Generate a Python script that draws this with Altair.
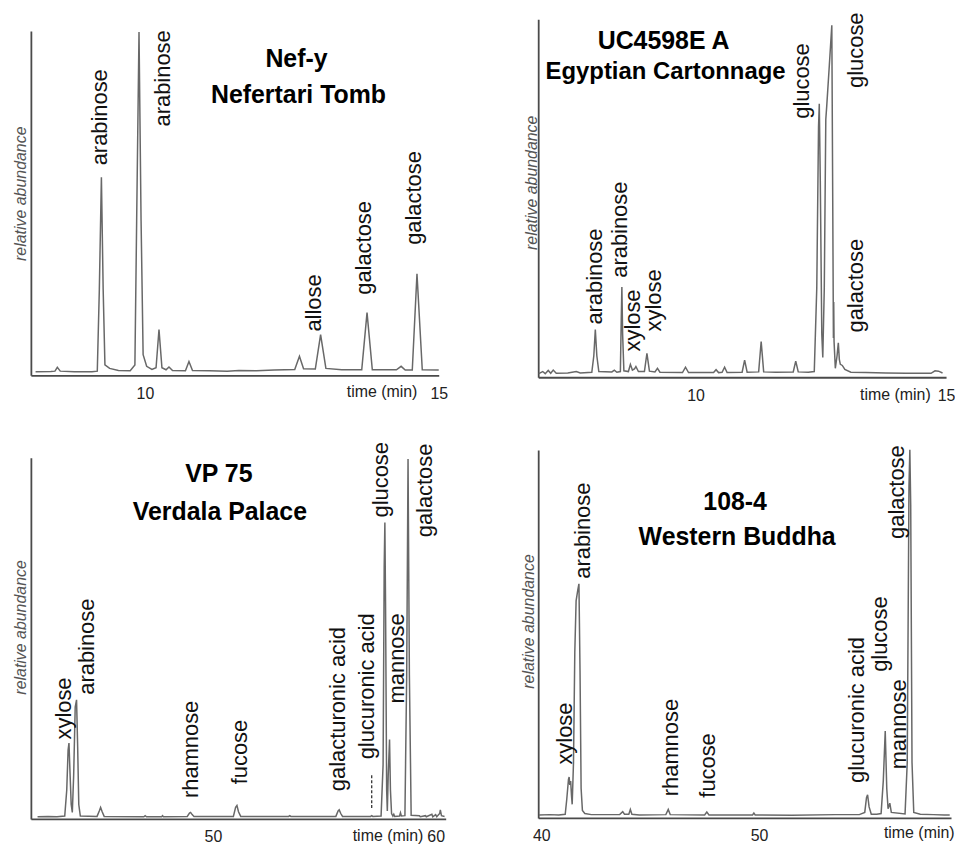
import altair as alt
import pandas as pd

# ---------------- data ----------------
# Panel 1: Nef-y / Nefertari Tomb
p1_time = [8.14, 8.40, 8.47, 8.51, 8.56, 8.80, 9.10, 9.19, 9.225, 9.26, 9.29, 9.32, 9.40, 9.55,
           9.75, 9.83, 9.86, 9.90, 9.935, 9.97, 10.03, 10.12, 10.19, 10.24, 10.29, 10.36, 10.41,
           10.47, 10.69, 10.75, 10.81, 11.10, 11.40, 11.60, 11.90, 12.20, 12.55, 12.63, 12.70,
           12.90, 12.99, 13.08, 13.35, 13.69, 13.78, 13.87, 14.28, 14.36, 14.43, 14.55, 14.63,
           14.72, 15.00]
p1_abund = [1.0, 1.1, 1.2, 2.3, 1.2, 1.0, 1.0, 1.2, 25, 57.5, 25, 3.0, 2.0, 1.4,
            1.3, 3.0, 45, 99.7, 45, 6.0, 2.6, 1.7, 2.2, 13.3, 2.2, 1.6, 2.4,
            1.4, 1.3, 4.0, 1.4, 1.3, 1.2, 1.4, 1.3, 1.5, 1.7, 5.5, 1.9,
            1.8, 11.8, 2.0, 1.6, 1.6, 18.2, 1.6, 1.6, 2.6, 1.5, 1.5, 29.5,
            1.6, 1.5]
p1_names = ["arabinose", "arabinose", "allose", "galactose", "galactose"]
p1_lab_t = [9.24, 10.31, 12.88, 13.73, 14.58]
p1_lab_v = [61.0, 72.3, 12.7, 23.4, 37.9]
p1_title = ["Nef-y", "Nefertari Tomb"]
p1_ticks = [10, 15]

# Panel 2: UC4598E A / Egyptian Cartonnage
p2_time = [6.87, 6.95, 7.00, 7.06, 7.11, 7.16, 7.22, 7.45, 7.62, 7.70, 7.93, 7.97, 8.00, 8.03,
           8.07, 8.33, 8.38, 8.43, 8.50, 8.515, 8.53, 8.545, 8.57, 8.66, 8.70, 8.74, 8.78, 8.81,
           8.86, 8.98, 9.03, 9.08, 9.19, 9.24, 9.29, 9.74, 9.80, 9.86, 10.36, 10.41, 10.46, 10.53,
           10.58, 10.63, 10.93, 10.98, 11.03, 11.26, 11.31, 11.36, 11.60, 11.95, 12.00, 12.05,
           12.25, 12.37, 12.42, 12.455, 12.47, 12.49, 12.52, 12.54, 12.57, 12.60, 12.62, 12.67,
           12.72, 12.74, 12.752, 12.758, 12.765, 12.79, 12.825, 12.85, 12.87, 12.89, 12.93,
           12.98, 13.10, 13.40, 13.80, 14.20, 14.70, 14.78, 14.85, 14.93]
p2_abund = [1.0, 1.6, 1.0, 1.9, 1.1, 2.0, 1.1, 1.2, 1.6, 1.2, 1.4, 6.0, 13.3, 6.0,
            1.6, 1.5, 2.0, 1.4, 1.6, 14, 25.2, 12, 1.8, 1.6, 3.6, 2.0, 2.3, 3.0,
            1.6, 1.6, 6.7, 1.7, 1.5, 2.5, 1.4, 1.3, 2.8, 1.3, 1.3, 2.1, 1.3, 1.4,
            2.8, 1.3, 1.4, 4.8, 1.4, 1.5, 10.0, 1.5, 1.4, 1.5, 4.5, 1.5,
            1.4, 1.6, 25, 70, 76.4, 55, 12, 5.5, 25, 72, 76, 87,
            98.3, 45, 11, 21, 10, 2.5, 6.0, 9.6, 5.0, 3.6, 3.3,
            2.2, 1.4, 1.3, 1.2, 1.1, 1.1, 1.8, 1.7, 1.2]
p2_names = ["arabinose", "arabinose", "xylose", "xylose", "glucose", "glucose", "galactose"]
p2_lab_t = [7.99, 8.49, 8.75, 9.18, 12.12, 13.21, 13.21]
p2_lab_v = [14.7, 27.8, 7.2, 12.8, 72.2, 80.8, 12.5]
p2_title = ["UC4598E A", "Egyptian Cartonnage"]
p2_ticks = [10, 15]

# Panel 3: VP 75 / Verdala Palace
p3_time = [42.13, 42.6, 43.0, 43.35, 43.44, 43.50, 43.54, 43.58, 43.64, 43.69, 43.75, 43.82,
           43.88, 43.93, 43.98, 44.05, 44.80, 44.90, 44.96, 45.03, 45.12, 46.90, 46.96, 47.02,
           47.70, 47.74, 47.78, 48.85, 48.95, 49.00, 49.07, 49.15, 50.92, 51.02, 51.08, 51.15,
           51.25, 53.40, 53.45, 53.50, 55.52, 55.62, 55.67, 55.74, 55.82, 57.08, 57.13, 57.18,
           57.55, 57.64, 57.69, 57.72, 57.75, 57.80, 57.83, 57.87, 57.93, 57.97, 58.02, 58.08,
           58.12, 58.16, 58.38, 58.42, 58.46, 58.62, 58.70, 58.76, 58.82, 58.90, 59.27, 59.31,
           59.54, 59.58, 59.83, 59.87, 60.00, 60.05, 60.18, 60.21, 60.26, 60.40]
p3_abund = [0.6, 0.7, 0.6, 0.8, 8, 19, 21.0, 14, 4, 1.8, 12, 31,
            33.0, 20, 4, 0.8, 0.7, 2.2, 3.2, 2.0, 0.7, 0.6, 0.9, 0.6,
            0.6, 0.9, 0.6, 0.7, 1.6, 1.8, 1.2, 0.7, 0.7, 3.2, 3.7, 2.0,
            0.7, 0.7, 0.9, 0.7, 0.7, 2.2, 2.5, 1.5, 0.7, 0.7, 0.9, 0.7,
            0.8, 15, 70, 82.1, 60, 8, 2.2, 12, 22.0, 8, 1.5, 0.8,
            1.3, 0.7, 0.8, 1.7, 0.8, 0.9, 40, 99.7, 40, 1.0, 0.9, 0.6,
            0.9, 0.6, 1.3, 0.6, 1.2, 0.6, 1.5, 2.5, 0.9, 0.7]
p3_names = ["xylose", "arabinose", "rhamnose", "fucose", "galacturonic acid",
            "glucuronic acid", "glucose", "mannose", "galactose"]
p3_lab_t = [43.30, 44.37, 49.02, 51.20, 55.62, 56.92, 57.54, 58.26, 59.51]
p3_lab_v = [22.0, 34.4, 5.8, 9.6, 7.7, 16.5, 83.5, 32.0, 78.0]
p3_dash_t = [57.13]
p3_dash_v = [3.0]
p3_dash_v2 = [12.4]
p3_title = ["VP 75", "Verdala Palace"]
p3_ticks = [50, 60]

# Panel 4: 108-4 / Western Buddha
p4_time = [39.90, 40.4, 40.8, 41.10, 41.17, 41.25, 41.28, 41.31, 41.35, 41.39, 41.42, 41.48,
           41.54, 41.60, 41.68, 41.73, 41.78, 41.83, 41.89, 42.0, 42.3, 43.60, 43.74, 43.82,
           44.02, 44.09, 44.16, 44.5, 45.72, 45.83, 45.92, 47.50, 47.60, 47.70, 49.70, 49.76,
           49.82, 51.5, 53.5, 54.6, 54.85, 54.93, 54.98, 55.05, 55.15, 55.40, 55.60, 55.70,
           55.79, 55.86, 55.92, 56.00, 56.07, 56.70, 56.80, 56.88, 56.92, 56.96, 57.02, 57.10,
           57.4, 58.0, 58.5, 58.75]
p4_abund = [0.8, 0.9, 0.8, 1.0, 5, 10.5, 11.1, 9, 10, 6, 3.7, 15,
            45, 59, 62, 63.6, 40, 8, 2.0, 1.2, 0.9, 0.9, 1.7, 1.0,
            1.0, 2.3, 1.0, 0.8, 0.9, 2.3, 0.9, 0.8, 1.6, 0.8, 0.8, 1.3,
            0.8, 0.7, 0.9, 0.9, 1.5, 5.5, 6.3, 3.0, 1.0, 1.0, 1.2, 10,
            23.6, 8, 2.5, 4.0, 1.5, 1.1, 15, 90, 100, 85, 15, 1.5,
            1.0, 0.9, 0.8, 0.8]
p4_names = ["xylose", "arabinose", "rhamnose", "fucose", "glucuronic acid",
            "glucose", "mannose", "galactose"]
p4_lab_t = [41.11, 41.92, 45.98, 47.66, 54.48, 55.54, 56.42, 56.33]
p4_lab_v = [14.5, 65.0, 5.9, 5.5, 9.5, 39.7, 13.2, 75.8]
p4_title = ["108-4", "Western Buddha"]
p4_ticks = [40, 50]

# ---------------- styling ----------------
FONT = "Liberation Sans, Arial"
TRACE = "#686868"
AXIS = "#4a4a4a"


def panel(time, abund, names, lab_t, lab_v, title, ticks, xdom, width, height, yrange,
          title_pos, title_sizes, ytx, yty, xtx, xty, extra=None):
    xs = alt.Scale(domain=xdom, nice=False, zero=False)
    ys = alt.Scale(domain=[0, 100], range=yrange, nice=False, zero=False)
    xa = alt.Axis(
        values=ticks, ticks=False, tickSize=0, grid=False, labelFlush=False,
        labelFont=FONT, labelFontSize=16, labelColor="#222", labelPadding=10,
        domainColor=AXIS, domainWidth=1.8,
        title="time (min)", titleFont=FONT, titleFontSize=16, titleFontWeight="normal",
        titleColor="#222", titleAlign="left", titleBaseline="alphabetic",
        titleX=xtx, titleY=xty)
    ya = alt.Axis(
        labels=False, ticks=False, tickSize=0, grid=False,
        domainColor=AXIS, domainWidth=1.8,
        title="relative abundance", titleFont=FONT, titleFontSize=16,
        titleFontStyle="italic", titleFontWeight="normal", titleColor="#555",
        titleAngle=270, titleAlign="center", titleBaseline="alphabetic",
        titleX=ytx, titleY=yty)
    trace = pd.DataFrame({"t": time, "v": abund})
    labs = pd.DataFrame({"t": lab_t, "v": lab_v, "name": names})

    line = alt.Chart(trace).mark_line(color=TRACE, strokeWidth=1.5).encode(
        x=alt.X("t:Q", scale=xs, axis=xa),
        y=alt.Y("v:Q", scale=ys, axis=ya),
    )
    text = alt.Chart(labs).mark_text(
        angle=270, align="left", baseline="middle", font=FONT, fontSize=22, color="#111"
    ).encode(
        x=alt.X("t:Q", scale=xs, axis=xa),
        y=alt.Y("v:Q", scale=ys, axis=ya),
        text="name:N",
    )
    layers = [line, text]
    for line_txt, (px, py), fs in zip(title, title_pos, title_sizes):
        layers.append(
            alt.Chart(pd.DataFrame({"s": [line_txt]})).mark_text(
                align="center", baseline="alphabetic", font=FONT, fontSize=fs,
                fontWeight="bold", color="#000"
            ).encode(text="s:N", x=alt.value(px), y=alt.value(py))
        )
    if extra is not None:
        layers.append(extra(xs, ys, xa, ya))
    return alt.layer(*layers).properties(width=width, height=height)


def p3_dash(xs, ys, xa, ya):
    d = pd.DataFrame({"t": p3_dash_t, "v": p3_dash_v, "v2": p3_dash_v2})
    return alt.Chart(d).mark_rule(color="#222", strokeWidth=1.2, strokeDash=[3, 2]).encode(
        x=alt.X("t:Q", scale=xs, axis=xa),
        y=alt.Y("v:Q", scale=ys, axis=ya),
        y2="v2:Q",
    )


c1 = panel(p1_time, p1_abund, p1_names, p1_lab_t, p1_lab_v, p1_title, p1_ticks,
           [8.06, 15.0], 410, 358, [358, 12], [(267, 48), (269, 84)], [25, 25],
           -5, 175, 317, 21)
c2 = panel(p2_time, p2_abund, p2_names, p2_lab_t, p2_lab_v, p2_title, p2_ticks,
           [6.86, 15.0], 410, 360, [360, 0], [(126, 30), (128, 60)], [25, 24],
           -2, 164, 323, 22)
c3 = panel(p3_time, p3_abund, p3_names, p3_lab_t, p3_lab_v, p3_title, p3_ticks,
           [41.83, 60.45], 417, 371, [371, 8], [(189, 32), (190, 70)], [25, 25],
           -5, 178, 323, 22, extra=p3_dash)
c4 = panel(p4_time, p4_abund, p4_names, p4_lab_t, p4_lab_v, p4_title, p4_ticks,
           [39.86, 58.81], 415, 370, [370, 0], [(198, 60), (200, 96)], [25, 25],
           -5, 172, 347, 20)

chart = alt.concat(
    c1, c2, c3, c4, columns=2, spacing={"row": 73, "column": 93}, bounds="flush"
).properties(
    padding={"left": 5, "top": 2, "right": 0, "bottom": 0}
).configure_view(stroke=None)

chart.save("out.html", embed_options={"renderer": "svg", "actions": False})
